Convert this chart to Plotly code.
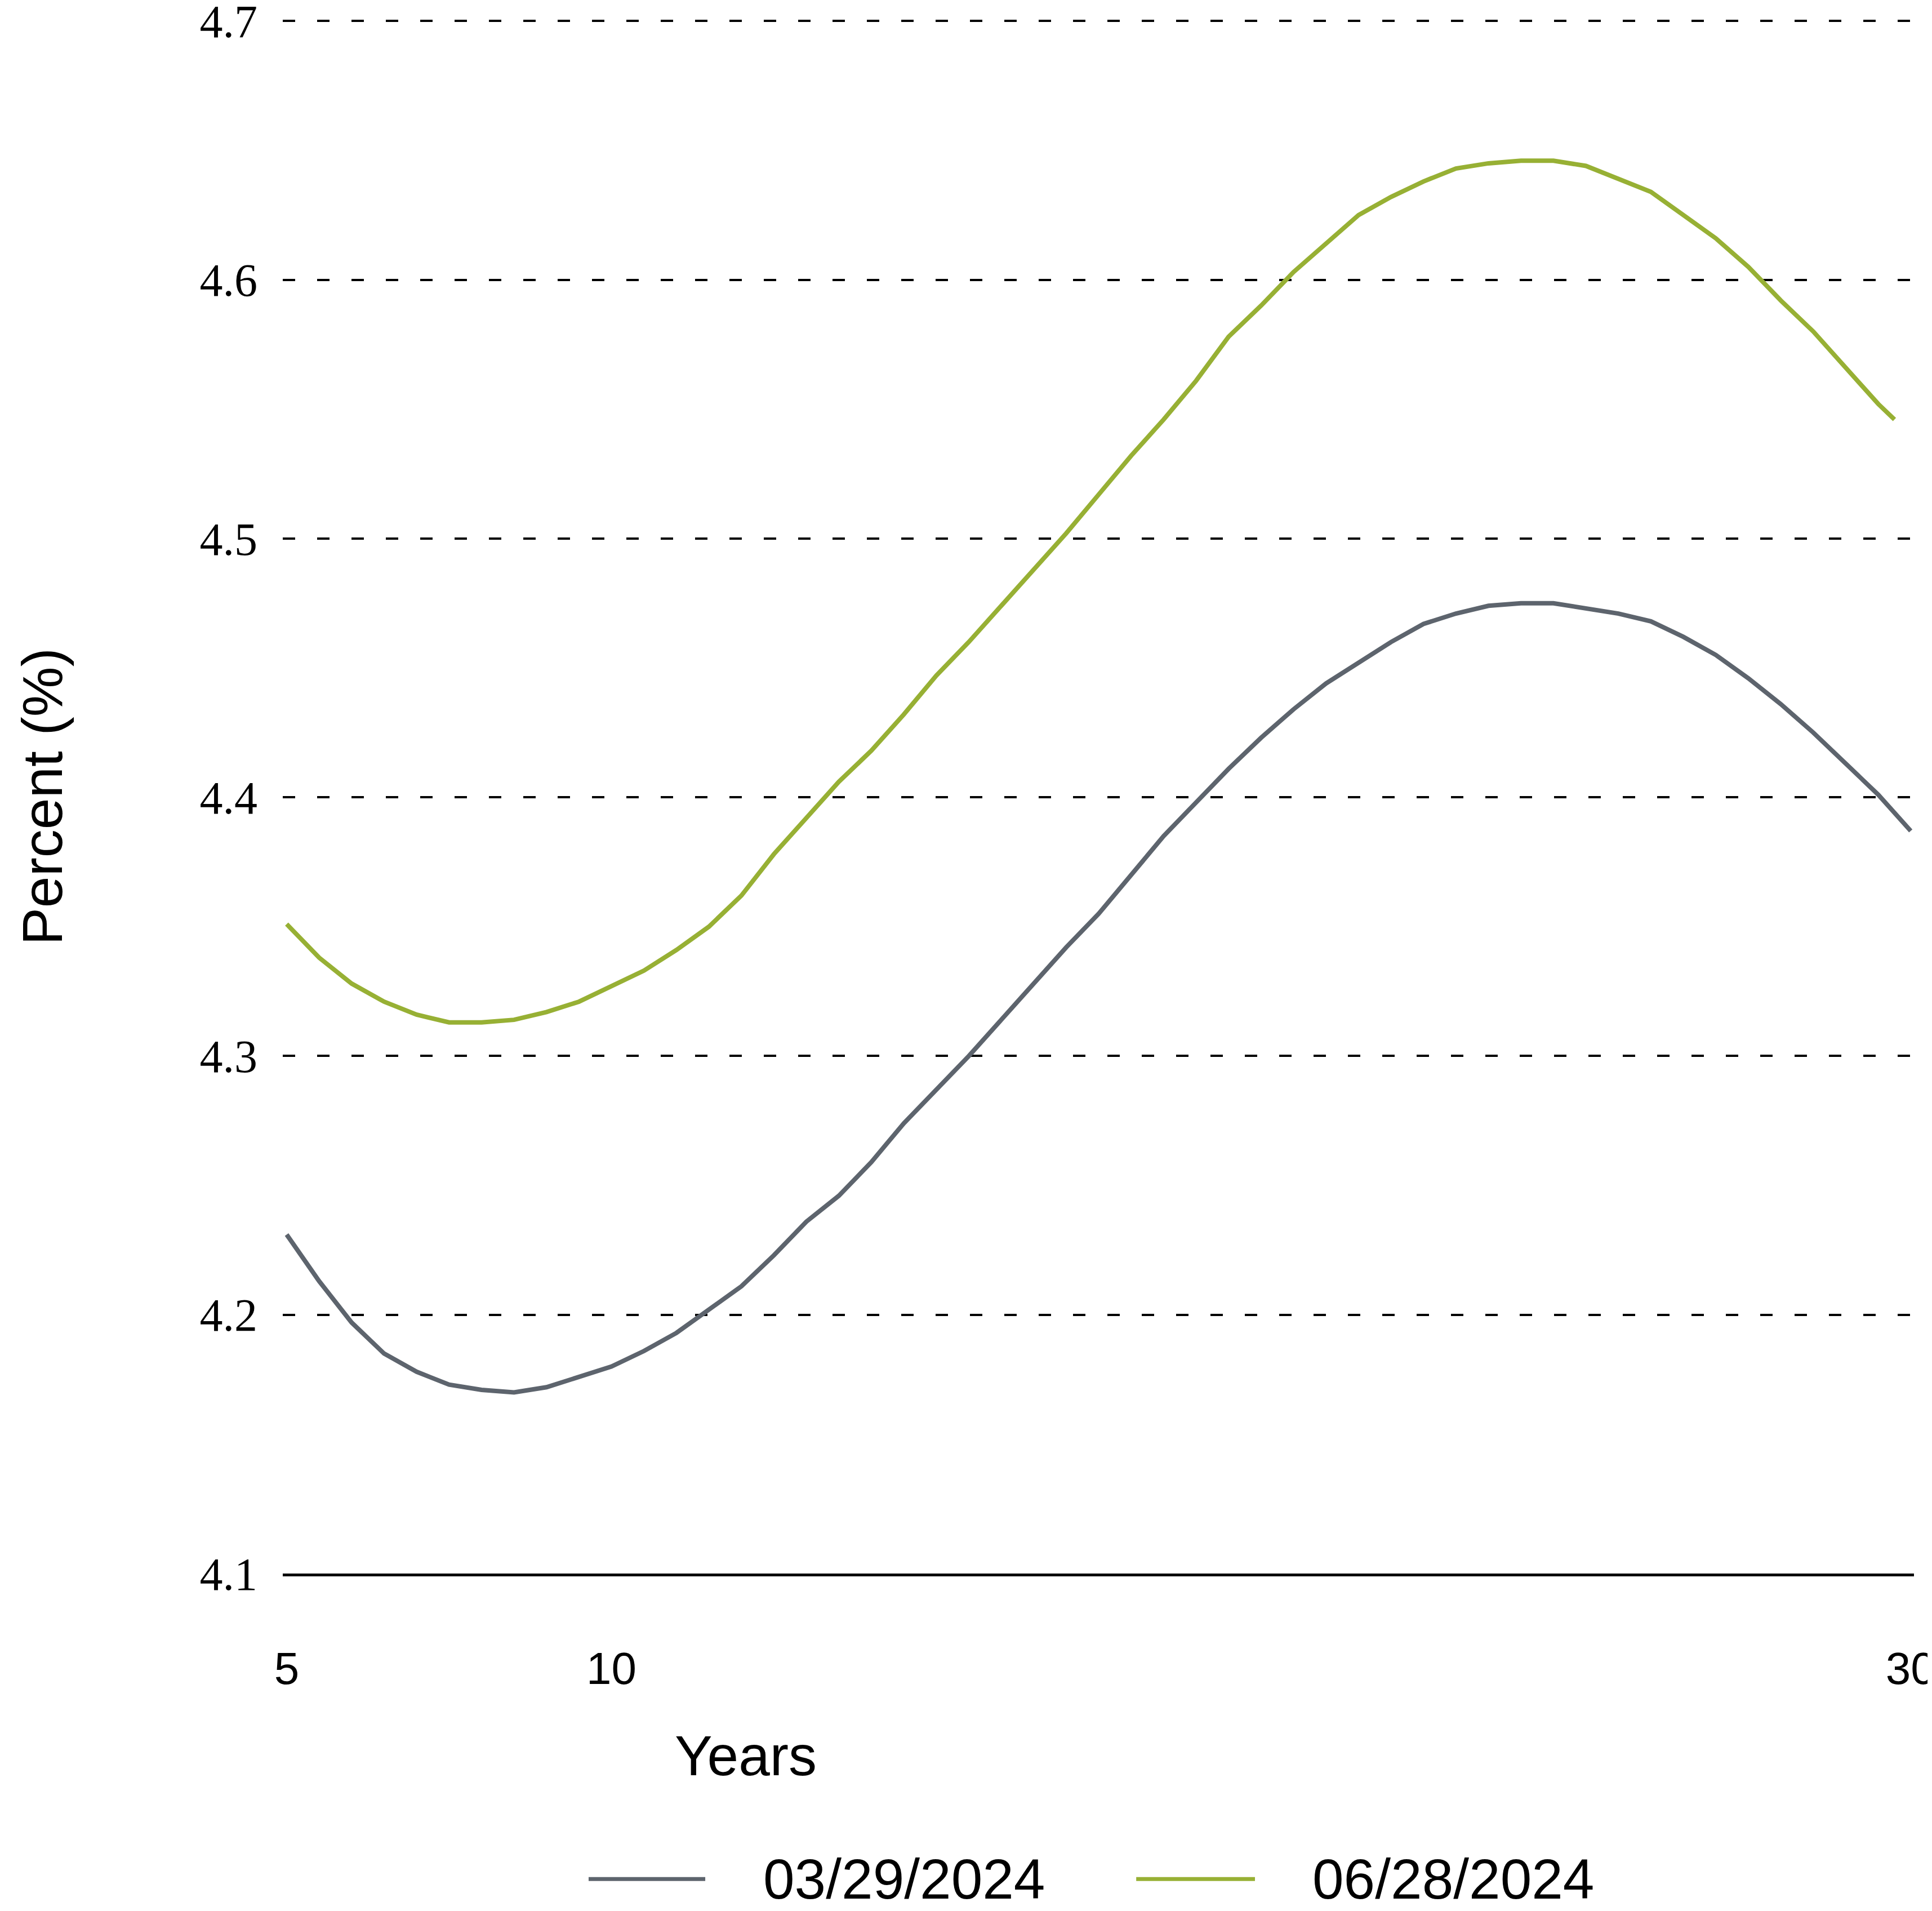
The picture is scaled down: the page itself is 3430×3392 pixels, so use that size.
import plotly.graph_objects as go

# Maturity in years
years_mar = [5.0, 5.5, 6.0, 6.5, 7.0, 7.5, 8.0, 8.5, 9.0, 9.5, 10.0, 10.5, 11.0, 11.5, 12.0,
             12.5, 13.0, 13.5, 14.0, 14.5, 15.0, 15.5, 16.0, 16.5, 17.0, 17.5, 18.0, 18.5,
             19.0, 19.5, 20.0, 20.5, 21.0, 21.5, 22.0, 22.5, 23.0, 23.5, 24.0, 24.5, 25.0,
             25.5, 26.0, 26.5, 27.0, 27.5, 28.0, 28.5, 29.0, 29.5, 30.0]
yield_mar = [4.231, 4.213, 4.197, 4.185, 4.178, 4.173, 4.171, 4.170, 4.172, 4.176, 4.180,
             4.186, 4.193, 4.202, 4.211, 4.223, 4.236, 4.246, 4.259, 4.274, 4.287, 4.300,
             4.314, 4.328, 4.342, 4.355, 4.370, 4.385, 4.398, 4.411, 4.423, 4.434, 4.444,
             4.452, 4.460, 4.467, 4.471, 4.474, 4.475, 4.475, 4.473, 4.471, 4.468, 4.462,
             4.455, 4.446, 4.436, 4.425, 4.413, 4.401, 4.387]

years_jun = [5.0, 5.5, 6.0, 6.5, 7.0, 7.5, 8.0, 8.5, 9.0, 9.5, 10.0, 10.5, 11.0, 11.5, 12.0,
             12.5, 13.0, 13.5, 14.0, 14.5, 15.0, 15.5, 16.0, 16.5, 17.0, 17.5, 18.0, 18.5,
             19.0, 19.5, 20.0, 20.5, 21.0, 21.5, 22.0, 22.5, 23.0, 23.5, 24.0, 24.5, 25.0,
             25.5, 26.0, 26.5, 27.0, 27.5, 28.0, 28.5, 29.0, 29.5, 29.75]
yield_jun = [4.351, 4.338, 4.328, 4.321, 4.316, 4.313, 4.313, 4.314, 4.317, 4.321, 4.327,
             4.333, 4.341, 4.350, 4.362, 4.378, 4.392, 4.406, 4.418, 4.432, 4.447, 4.460,
             4.474, 4.488, 4.502, 4.517, 4.532, 4.546, 4.561, 4.578, 4.590, 4.603, 4.614,
             4.625, 4.632, 4.638, 4.643, 4.645, 4.646, 4.646, 4.644, 4.639, 4.634, 4.625,
             4.616, 4.605, 4.592, 4.580, 4.566, 4.552, 4.546]

series_names = ["03/29/2024", "06/28/2024"]
series_colors = ["#5D646D", "#97B034"]

x_ticks = [5, 10, 30]
x_ticktext = ["5", "10", "30"]
y_ticks = [4.1, 4.2, 4.3, 4.4, 4.5, 4.6, 4.7]
y_ticktext = ["4.1", "4.2", "4.3", "4.4", "4.5", "4.6", "4.7"]

SANS = "Liberation Sans, Arial, sans-serif"
SERIF = "Liberation Serif, Times New Roman, serif"

fig = go.Figure()
for xs, ys, name, color in [(years_mar, yield_mar, series_names[0], series_colors[0]),
                            (years_jun, yield_jun, series_names[1], series_colors[1])]:
    fig.add_trace(go.Scatter(x=xs, y=ys, mode="lines", name=name, showlegend=False,
                             line=dict(color=color, width=8)))

# Legend drawn below the plot (line sample + label for each series)
legend_line_x = [(0.1875, 0.2590), (0.5232, 0.5960)]
legend_text_x = [0.2940, 0.6305]
legend_y = -0.1966
shapes = []
annotations = []
for (x0, x1), tx, name, color in zip(legend_line_x, legend_text_x, series_names, series_colors):
    shapes.append(dict(type="line", xref="paper", yref="paper", x0=x0, x1=x1,
                       y0=legend_y, y1=legend_y, line=dict(color=color, width=7)))
    annotations.append(dict(text=name, xref="paper", yref="paper", x=tx, y=legend_y,
                            xanchor="left", yanchor="middle", showarrow=False,
                            height=90, valign="middle",
                            font=dict(family=SANS, size=100, color="black")))

annotations += [
    dict(text="Years", xref="paper", yref="paper", x=0.284, y=-0.117,
         xanchor="center", yanchor="middle", showarrow=False,
         font=dict(family=SANS, size=100, color="black")),
    dict(text="Percent (%)", xref="paper", yref="paper", x=-0.1475, y=0.5,
         xanchor="center", yanchor="middle", showarrow=False, textangle=-90,
         font=dict(family=SANS, size=100, color="black")),
]

fig.update_layout(
    width=3430, height=3392,
    paper_bgcolor="white", plot_bgcolor="white",
    margin=dict(l=494, r=40, t=27, b=607, autoexpand=False),
    showlegend=False,
    shapes=shapes,
    annotations=annotations,
)

fig.update_xaxes(range=[4.94, 30.05], tickvals=x_ticks, ticktext=x_ticktext,
                 showgrid=False, zeroline=False, showline=True, linecolor="black",
                 linewidth=5, ticks="", ticklabelstandoff=95, ticklabeloverflow="allow",
                 tickfont=dict(family=SANS, size=80, color="black"))
fig.update_yaxes(range=[4.1, 4.7005], tickvals=y_ticks, ticktext=y_ticktext,
                 showgrid=True, gridcolor="black", gridwidth=4, griddash="22px,39px",
                 zeroline=False, showline=False, ticks="", ticklabelstandoff=44,
                 ticklabeloverflow="allow",
                 tickfont=dict(family=SERIF, size=82, color="black"))

fig.write_html("out.html")
